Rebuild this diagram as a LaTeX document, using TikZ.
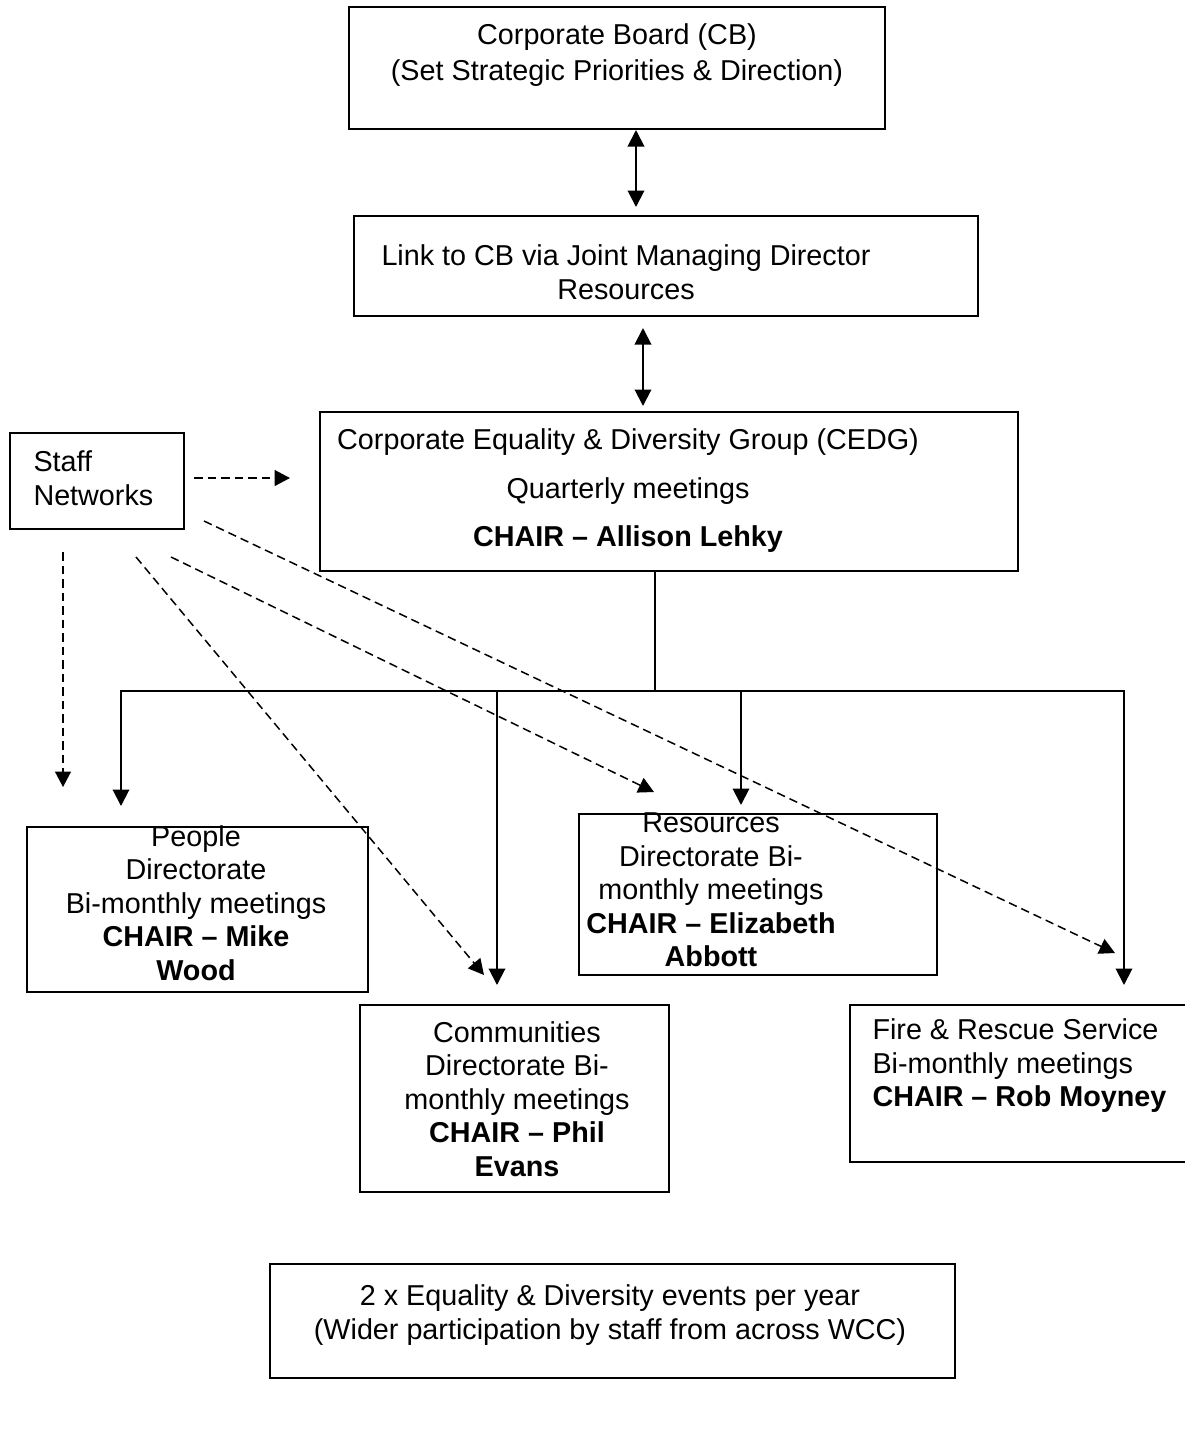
\documentclass[tikz,border=0pt]{standalone}
\usepackage{fontspec}
\setmainfont{Liberation Sans}
\usetikzlibrary{arrows.meta}

\begin{document}
\begin{tikzpicture}[x=0.4pt,y=-0.4pt,
    box/.style={draw,line width=0.8pt,inner sep=0pt},
    txt/.style={inner sep=0pt,align=center,font=\fontsize{11.5}{13.4}\selectfont},
    flow/.style={line width=0.8pt,-{Triangle[length=6.6pt,width=6.6pt]}},
    both/.style={line width=0.8pt,{Triangle[length=6.6pt,width=6.6pt]}-{Triangle[length=6.6pt,width=6.6pt]}},
    net/.style={line width=0.6pt,dash pattern=on 3.4pt off 2pt,-{Triangle[length=6.2pt,width=6.4pt]}}]
    \useasboundingbox (0,0) rectangle (1185,1436);

    % boxes
    \node[box,minimum width=214.4pt,minimum height=48.8pt] (cb) at (617,68) {};
    \node[box,minimum width=249.6pt,minimum height=40pt] (link) at (666,266) {};
    \node[box,minimum width=69.6pt,minimum height=38.4pt] (staff) at (97,481) {};
    \node[box,minimum width=279.2pt,minimum height=63.6pt] (cedg) at (669,491.5) {};
    \node[box,minimum width=136.4pt,minimum height=66pt] (people) at (197.5,909.5) {};
    \node[box,minimum width=143.2pt,minimum height=64.4pt] (res) at (758,894.5) {};
    \node[box,minimum width=123.6pt,minimum height=74.8pt] (comm) at (514.5,1098.5) {};
    \node[box,minimum width=136.8pt,minimum height=62.8pt] (fire) at (1021,1083.5) {};
    \node[box,minimum width=274pt,minimum height=45.6pt] (events) at (612.5,1321) {};

    % texts
    \node[txt] (cbtext) at (617,55) {Corporate Board (CB)\\[1pt](Set Strategic Priorities \& Direction)};
    \node[txt] (linktext) at (626,272) {Link to CB via Joint Managing Director\\Resources};
    \node[txt,align=left,anchor=west] (stafftext) at (33,478) {Staff\\Networks};
    \node[txt] (cedgtext) at (628,491) {Corporate Equality \& Diversity Group (CEDG)\\[6pt]Quarterly meetings\\[6pt]\textbf{CHAIR – Allison Lehky}};
    \node[txt] (peopletext) at (196,903) {People\\Directorate\\Bi-monthly meetings\\\textbf{CHAIR – Mike}\\\textbf{Wood}};
    \node[txt] (restext) at (711,890) {Resources\\Directorate Bi-\\monthly meetings\\\textbf{CHAIR – Elizabeth}\\\textbf{Abbott}};
    \node[txt] (commtext) at (517,1099) {Communities\\Directorate Bi-\\monthly meetings\\\textbf{CHAIR – Phil}\\\textbf{Evans}};
    \node[txt,align=left,anchor=west] (firetext) at (872,1066) {Fire \& Rescue Service\\Bi-monthly meetings\\\textbf{CHAIR – Rob Moyney}};
    \node[txt] (eventstext) at (610,1315) {2 x Equality \& Diversity events per year\\(Wider participation by staff from across WCC)};

    % links up the chain
    \coordinate (cbtip) at (636,207);
    \coordinate (cedgtip) at (643,406);
    \draw[both] (cb.south -| cbtip) -- (cbtip);
    \draw[both,shorten <=4.4pt] (link.south -| cedgtip) -- (cedgtip);

    % directorate groups
    \coordinate (hub) at (655,691);
    \coordinate (tpeople) at (121,806);
    \coordinate (tcomm) at (497,985);
    \coordinate (tres) at (741,805);
    \coordinate (tfire) at (1124,985);
    \draw[line width=0.8pt] (cedg.south -| hub) -- (hub);
    \draw[both] (tpeople) |- (hub) -| (tfire);
    \draw[flow] (tcomm |- hub) -- (tcomm);
    \draw[flow] (tres |- hub) -- (tres);

    % staff networks
    \coordinate (tcedg) at (290,478);
    \coordinate (s1) at (63,552);
    \coordinate (s2) at (136,557);
    \coordinate (s3) at (171,557);
    \coordinate (s4) at (204,521);
    \coordinate (t1) at (63,787);
    \coordinate (t2) at (484,975);
    \coordinate (t3) at (654,792);
    \coordinate (t4) at (1115,953);
    \draw[net,shorten <=3.6pt] (staff.east |- tcedg) -- (tcedg);
    \draw[net] (s1) -- (t1);
    \draw[net] (s2) -- (t2);
    \draw[net] (s3) -- (t3);
    \draw[net] (s4) -- (t4);
\end{tikzpicture}
\end{document}
